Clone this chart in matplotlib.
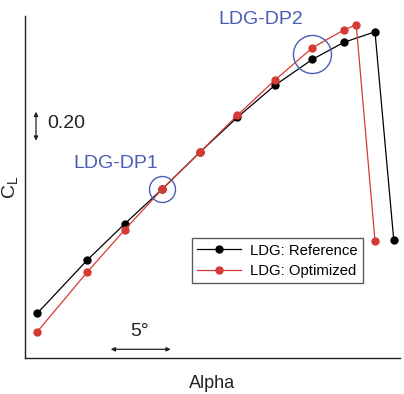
import matplotlib
matplotlib.use("Agg")
import matplotlib.pyplot as plt

plt.rcParams['font.family'] = ['Liberation Sans', 'DejaVu Sans']

alpha_ref = [0.0, 4.0, 7.0, 10.0, 13.0, 16.0, 19.0, 22.0, 24.5, 27.0, 28.5]
cl_ref = [0.808, 1.176, 1.426, 1.666, 1.919, 2.160, 2.381, 2.560, 2.677, 2.750, 1.314]
alpha_opt = [0.0, 4.0, 7.0, 10.0, 13.0, 16.0, 19.0, 22.0, 24.5, 25.5, 27.0]
cl_opt = [0.681, 1.093, 1.385, 1.666, 1.919, 2.174, 2.417, 2.640, 2.762, 2.799, 1.309]
labels = ["LDG: Reference", "LDG: Optimized"]
dp_alpha = [10.0, 22.0]
dp_cl = [1.666, 2.594]
dp_names = ["LDG-DP1", "LDG-DP2"]

W, H = 404, 394
fig = plt.figure(figsize=(W / 100, H / 100), dpi=100)
ax = fig.add_axes([25 / W, 1 - 358 / H, (400 - 25) / W, (358 - 16) / H])
ax.set_xlim(-0.98, 29.0)
ax.set_ylim(0.5, 2.859)
for s in ['top', 'right']:
    ax.spines[s].set_visible(False)
for s in ['left', 'bottom']:
    ax.spines[s].set_linewidth(1.0)
    ax.spines[s].set_color('#222222')
ax.set_xticks([])
ax.set_yticks([])

red = '#d63a34'
ax.plot(alpha_ref, cl_ref, '-o', color='black', lw=0.9, ms=5, label=labels[0], zorder=3)
ax.plot(alpha_opt, cl_opt, '-o', color=red, lw=0.9, ms=5, label=labels[1], zorder=4)

blue = '#4a5db5'
sizes = [18.7, 27.4]
for a, c, s in zip(dp_alpha, dp_cl, sizes):
    ax.plot([a], [c], 'o', ms=s, mfc='none', mec=blue, mew=1.0, zorder=5)

fig.text(116 / W, 1 - 163 / H, dp_names[0], color=blue, fontsize=14, ha='center', va='center')
fig.text(261 / W, 1 - 20 / H, dp_names[1], color=blue, fontsize=14, ha='center', va='center')

leg = ax.legend(loc='upper left', bbox_to_anchor=((191.7 - 25) / 375, (358 - 238.3) / 342),
                fontsize=10.7, frameon=True, fancybox=False, handlelength=3.0,
                borderpad=0.35, labelspacing=0.45, handletextpad=0.6, borderaxespad=0)
leg.get_frame().set_edgecolor('#333333')
leg.get_frame().set_linewidth(1.0)

# scale arrows
fig.add_artist(plt.Annotation('', xy=(36 / W, 1 - 111.7 / H), xytext=(36 / W, 1 - 140.7 / H),
                              xycoords='figure fraction', textcoords='figure fraction',
                              arrowprops=dict(arrowstyle='<|-|>', color='#222222', lw=0.9,
                                              mutation_scale=6, shrinkA=0, shrinkB=0)))
fig.text(47 / W, 1 - 123 / H, "0.20", fontsize=14, ha='left', va='center', color='#222222')
fig.add_artist(plt.Annotation('', xy=(110.7 / W, 1 - 349.3 / H), xytext=(170.7 / W, 1 - 349.3 / H),
                              xycoords='figure fraction', textcoords='figure fraction',
                              arrowprops=dict(arrowstyle='<|-|>', color='#222222', lw=0.9,
                                              mutation_scale=6, shrinkA=0, shrinkB=0)))
fig.text(140 / W, 1 - 331 / H, "5°", fontsize=14, ha='center', va='center', color='#222222')

fig.text(212 / W, 1 - 383 / H, "Alpha", fontsize=13, ha='center', va='center', color='#222222')
fig.text(1 / W, 1 - 187 / H, r"C$_\mathregular{L}$", fontsize=14, ha='left', va='center',
         rotation=90, color='#222222')

fig.savefig("out.png", dpi=100)
